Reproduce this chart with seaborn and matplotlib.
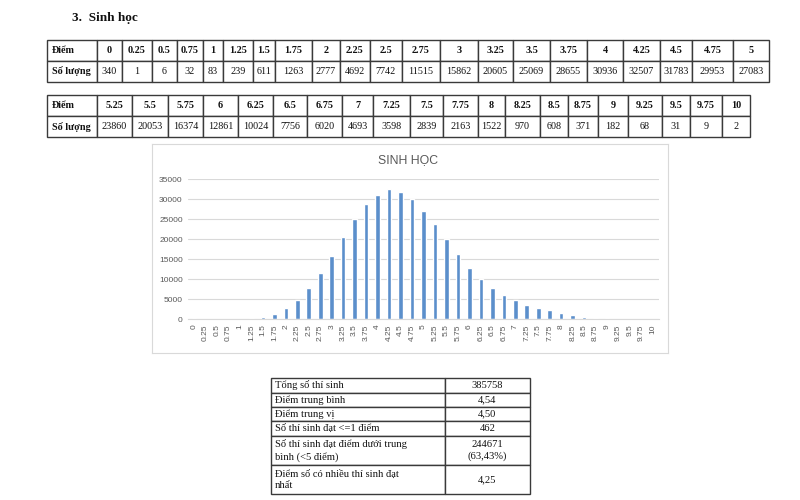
import matplotlib
matplotlib.use("Agg")
import matplotlib.pyplot as plt
import seaborn as sns
import pandas as pd

# ---------------- data ----------------
section_title = "3.  Sinh học"
chart_title = "SINH HỌC"
row_header = ["Điểm", "Số lượng"]
scores = ["0", "0.25", "0.5", "0.75", "1", "1.25", "1.5", "1.75", "2", "2.25",
          "2.5", "2.75", "3", "3.25", "3.5", "3.75", "4", "4.25", "4.5", "4.75",
          "5", "5.25", "5.5", "5.75", "6", "6.25", "6.5", "6.75", "7", "7.25",
          "7.5", "7.75", "8", "8.25", "8.5", "8.75", "9", "9.25", "9.5", "9.75", "10"]
counts = [340, 1, 6, 32, 83, 239, 611, 1263, 2777, 4692,
          7742, 11515, 15862, 20605, 25069, 28655, 30936, 32507, 31783, 29953,
          27083, 23860, 20053, 16374, 12861, 10024, 7756, 6020, 4693, 3598,
          2839, 2163, 1522, 970, 608, 371, 182, 68, 31, 9, 2]
y_ticks = [0, 5000, 10000, 15000, 20000, 25000, 30000, 35000]
summary_labels = ["Tổng số thí sinh", "Điểm trung bình", "Điểm trung vị",
                  "Số thí sinh đạt <=1 điểm",
                  "Số thí sinh đạt điểm dưới trung\nbình (<5 điểm)",
                  "Điểm số có nhiều thí sinh đạt\nnhất"]
summary_values = ["385758", "4,54", "4,50", "462", "244671\n(63,43%)", "4,25"]

# ---------------- style ----------------
sns.set_theme(style="white")
plt.rcParams['font.family'] = ['Liberation Serif', 'DejaVu Serif']
SERIF = ['Liberation Serif', 'DejaVu Serif']
SANS = ['Liberation Sans', 'DejaVu Sans']

W, H = 800, 500
fig = plt.figure(figsize=(8, 5), dpi=100)
fig.patch.set_facecolor('white')


def fig_rect(x0, y0, x1, y1):
    return [x0 / W, 1 - y1 / H, (x1 - x0) / W, (y1 - y0) / H]


def draw_table(rect, cell_text, col_px, row_px, bold_rows, bold_cols,
               left_cols, fontsize, left_pad=None, linespacing=1.05):
    tax = fig.add_axes(rect)
    tax.axis('off')
    tbl = tax.table(cellText=cell_text, cellLoc='center', bbox=[0, 0, 1, 1])
    tbl.auto_set_font_size(False)
    for (r, c), cell in tbl.get_celld().items():
        cell.set_width(col_px[c])
        cell.set_height(row_px[r])
        cell.set_edgecolor('#3a3a3a')
        cell.set_linewidth(1.0)
        cell.set_facecolor('white')
        t = cell.get_text()
        if c in left_cols:
            cell._loc = 'left'
            t.set_horizontalalignment('left')
            t.set_multialignment('left')
            if left_pad is not None:
                cell.PAD = left_pad / col_px[c]
        t.set_fontsize(fontsize)
        t.set_fontfamily(SERIF)
        t.set_color('#111111')
        t.set_linespacing(linespacing)
        if r in bold_rows or c in bold_cols:
            t.set_fontweight('bold')
    return tbl


# ---------------- section title ----------------
fig.text(72 / W, 1 - 18 / H, section_title, ha='left', va='center',
         fontsize=9.5, fontweight='bold', family=SERIF, color='#111111')

# ---------------- table 1 ----------------
b1 = [47, 97, 122, 152, 177, 203, 223, 253, 275, 312, 340, 370, 402, 440,
      478, 513, 550, 587, 623, 660, 692, 733, 769]
cols1 = [b1[i + 1] - b1[i] for i in range(len(b1) - 1)]
n1 = 21
text1 = [[row_header[0]] + scores[:n1],
         [row_header[1]] + [str(v) for v in counts[:n1]]]
draw_table(fig_rect(b1[0], 40, b1[-1], 82), text1, cols1, [21, 21],
           bold_rows=[0], bold_cols=[0], left_cols=[0], fontsize=7.3,
           left_pad=5)

# ---------------- table 2 ----------------
b2 = [47, 97, 132, 168, 203, 238, 273, 307, 342, 373, 410, 443, 478, 505,
      540, 568, 598, 628, 662, 690, 722, 750]
cols2 = [b2[i + 1] - b2[i] for i in range(len(b2) - 1)]
text2 = [[row_header[0]] + scores[n1:],
         [row_header[1]] + [str(v) for v in counts[n1:]]]
draw_table(fig_rect(b2[0], 95, b2[-1], 137), text2, cols2, [21, 21],
           bold_rows=[0], bold_cols=[0], left_cols=[0], fontsize=7.3,
           left_pad=5)

# ---------------- chart ----------------
frame = fig.add_axes(fig_rect(152, 144, 668, 353))
frame.set_xticks([])
frame.set_yticks([])
frame.set_facecolor('white')
for s in frame.spines.values():
    s.set_color('#d9d9d9')
    s.set_linewidth(0.8)

fig.text(408 / W, 1 - 160 / H, chart_title, ha='center', va='center',
         fontsize=8.8, color='#595959', family=SANS)

ax = fig.add_axes(fig_rect(188.3, 179, 658.7, 319))
df = pd.DataFrame({'Điểm': scores, 'Số lượng': counts})
sns.barplot(data=df, x='Điểm', y='Số lượng', order=scores, color='#5B8FCB',
            saturation=1, width=0.4, ax=ax)
ax.set_xlim(-0.5, len(scores) - 0.5)
ax.set_ylim(0, 35000)
ax.set_yticks(y_ticks)
ax.set_yticklabels([str(v) for v in y_ticks])
ax.yaxis.grid(True, color='#d9d9d9', linewidth=0.8)
ax.xaxis.grid(False)
ax.set_axisbelow(True)
ax.patch.set_alpha(0)
for s in ['top', 'right', 'left']:
    ax.spines[s].set_visible(False)
ax.spines['bottom'].set_color('#d9d9d9')
ax.spines['bottom'].set_linewidth(0.8)
ax.tick_params(axis='x', labelrotation=90, length=0, labelsize=6,
               labelcolor='#595959', pad=4)
ax.tick_params(axis='y', length=0, labelsize=6, labelcolor='#595959', pad=4)
for lab in ax.get_xticklabels() + ax.get_yticklabels():
    lab.set_fontfamily(SANS)
ax.set_xlabel('')
ax.set_ylabel('')

# ---------------- summary table ----------------
text3 = [[l, v] for l, v in zip(summary_labels, summary_values)]
draw_table(fig_rect(271, 378, 530, 494), text3, [174, 85],
           [15, 14, 14, 15, 29, 29], bold_rows=[], bold_cols=[],
           left_cols=[0], fontsize=7.6, left_pad=4, linespacing=1.35)

fig.savefig("out.png", dpi=100, facecolor='white')
